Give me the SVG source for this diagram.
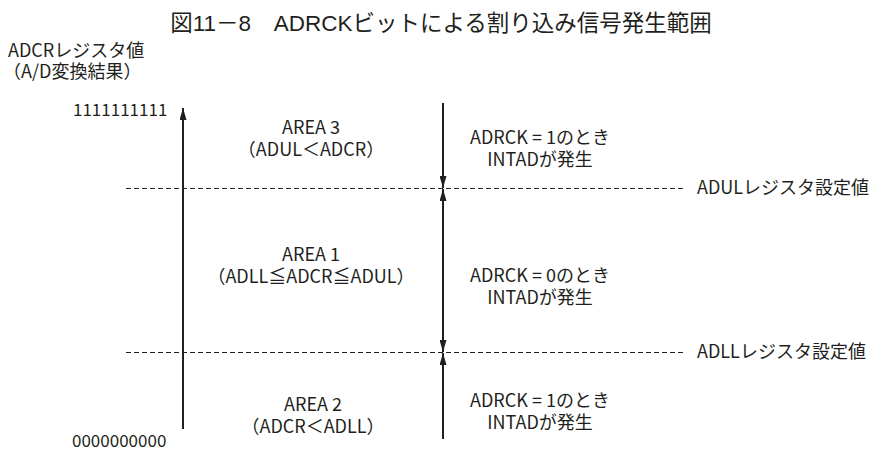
<svg xmlns="http://www.w3.org/2000/svg" width="877" height="450" viewBox="0 0 877 450">
<style>
text{font-family:"Noto Sans CJK JP","Noto Sans",sans-serif;fill:#231f20;}
.t{font-size:18px;}
.n{font-size:17px;}
.title{font-size:22.5px;font-family:"Liberation Sans","Noto Sans CJK JP",sans-serif;}
.c{text-anchor:middle;}
.axis{stroke:#231f20;stroke-width:2;fill:none;}
.dash{stroke:#231f20;stroke-width:1;stroke-dasharray:5,3;fill:none;}
</style>
<defs>
<marker id="ah" viewBox="0 0 12 7" refX="12" refY="3.5" markerWidth="12" markerHeight="7" markerUnits="userSpaceOnUse" orient="auto">
<path d="M0,0 L12,3.5 L0,7 z" fill="#231f20"/>
</marker>
</defs>
<g id="title"><text class="title c" x="441" y="31">図11－8　ADRCKビットによる割り込み信号発生範囲</text></g>
<g id="yaxis-label">
<text class="t" x="8" y="57">ADCRレジスタ値</text>
<text class="t" x="3" y="78">（A/D変換結果）</text>
</g>
<g id="max-label"><text class="n" x="73" y="116">1111111111</text></g>
<g id="min-label"><text class="n" x="72" y="447">0000000000</text></g>
<g id="adul-label"><text class="t" x="697" y="194">ADULレジスタ設定値</text></g>
<g id="adll-label"><text class="t" x="697" y="358">ADLLレジスタ設定値</text></g>
<g id="area3">
<text class="t c" x="311" y="134">AREA 3</text>
<text class="t c" x="311" y="156">（ADUL＜ADCR）</text>
</g>
<g id="area1">
<text class="t c" x="311" y="261">AREA 1</text>
<text class="t c" x="311" y="283">（ADLL≦ADCR≦ADUL）</text>
</g>
<g id="area2">
<text class="t c" x="313" y="411">AREA 2</text>
<text class="t c" x="313" y="433">（ADCR＜ADLL）</text>
</g>
<g id="cond3">
<text class="t c" x="540" y="144">ADRCK = 1のとき</text>
<text class="t c" x="540" y="166">INTADが発生</text>
</g>
<g id="cond1">
<text class="t c" x="540" y="282">ADRCK = 0のとき</text>
<text class="t c" x="540" y="304">INTADが発生</text>
</g>
<g id="cond2">
<text class="t c" x="540" y="407">ADRCK = 1のとき</text>
<text class="t c" x="540" y="429">INTADが発生</text>
</g>
<g id="connectors">
<line class="dash" x1="126" y1="188.5" x2="683" y2="188.5"/>
<line class="dash" x1="126" y1="352.5" x2="683" y2="352.5"/>
<line class="axis" x1="183" y1="429" x2="183" y2="108" marker-end="url(#ah)"/>
<line class="axis" x1="443" y1="103" x2="443" y2="188" marker-end="url(#ah)"/>
<line class="axis" x1="443" y1="270" x2="443" y2="189" marker-end="url(#ah)"/>
<line class="axis" x1="443" y1="270" x2="443" y2="352" marker-end="url(#ah)"/>
<line class="axis" x1="443" y1="439" x2="443" y2="353" marker-end="url(#ah)"/>
</g>
</svg>
